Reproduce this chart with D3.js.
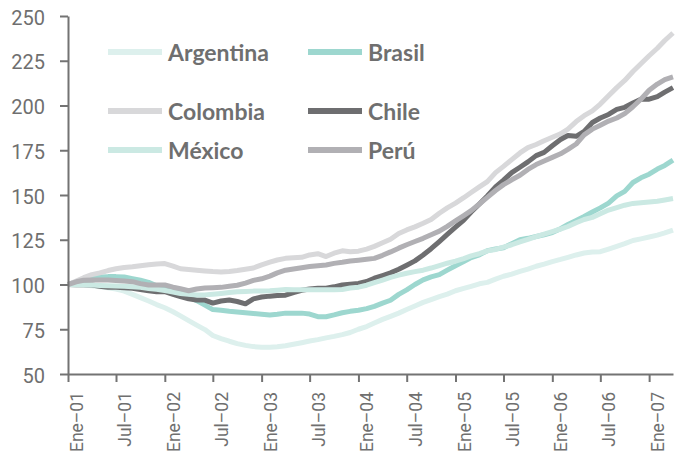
<!DOCTYPE html>
<html>
<head>
<meta charset="utf-8">
<script src="https://cdn.jsdelivr.net/npm/d3@7"></script>
<style>
  html, body { margin: 0; padding: 0; background: #ffffff; }
  svg { display: block; }
</style>
</head>
<body>
<svg id="chart" width="683" height="456"></svg>
<script>
// ---------- DATA (monthly index, Ene-2001 = 100) ----------
const seriesNames = ["Argentina", "Brasil", "Colombia", "Chile", "México", "Perú"];

const argentina = [100,99.8,99.7,99.3,98.8,98.2,97.5,96.3,94.5,92.7,90.8,88.8,
  87.0,84.8,82.5,79.8,77.3,74.8,71.5,69.8,68.3,67.0,66.0,65.3,
  65.0,65.0,65.2,65.8,66.6,67.5,68.4,69.2,70.2,71.0,72.0,73.2,
  75.0,76.5,78.5,80.5,82.2,84.0,86.0,88.0,90.0,91.6,93.2,94.6,
  96.5,97.8,99.0,100.4,101.2,103.0,104.6,105.8,107.3,108.6,110.2,111.4,
  112.8,114.0,115.2,116.5,117.6,118.2,118.3,119.8,121.3,122.8,124.6,125.5,
  126.5,127.6,128.8,130.4];

const brasil = [100,101.3,102.3,103.2,104.2,104.4,104.4,104.2,103.3,102.4,101.2,99.3,
  97.3,96.3,95.2,93.0,91.0,88.5,86.0,85.6,85.0,84.6,84.2,83.8,
  83.4,83.0,83.4,84.0,84.0,84.0,83.5,82.0,82.0,83.0,84.2,85.0,
  85.6,86.5,87.8,89.6,91.2,94.5,97.0,100.0,102.6,104.3,105.5,108.0,
  110.5,112.8,115.0,116.6,118.9,119.8,120.5,122.8,125.0,125.8,126.8,127.8,
  129.0,131.2,133.5,135.8,138.0,140.5,142.8,145.5,149.5,152.0,157.0,159.6,
  161.6,164.5,166.5,169.5];

const colombia = [100,102,103.8,105.5,106.5,107.8,108.8,109.5,109.9,110.5,111.0,111.5,
  111.7,110.3,108.8,108.4,108.0,107.6,107.2,107.0,107.3,107.8,108.5,109.2,
  111.0,112.5,113.7,114.6,114.9,115.2,116.5,117.2,115.6,117.5,118.8,118.3,
  118.6,119.8,121.3,123.3,125.3,128.5,130.5,132.2,134.2,136.3,139.8,142.8,
  145.5,148.5,151.4,154.5,157.5,162.5,166,169.8,173.5,176.5,178.2,180.3,
  182.3,184.2,186.8,191,194.3,197,200.8,205.5,210,214,219,223.3,
  227.8,232,236.3,240.5];

const chile = [100,99.9,99.8,99.7,99.0,98.4,98.4,98.2,97.9,97.2,96.5,96.0,
  96.0,94.5,93.3,92.0,91.3,91.3,89.6,90.8,91.3,90.5,89.2,92.0,
  93.0,93.5,93.8,94.0,95.5,96.8,97.5,97.9,97.9,98.7,99.7,100.2,
  100.6,101.7,103.5,105.0,106.5,108.5,110.8,113.2,116.5,120,124,128,
  132,136,140.5,145,149.5,154.5,158.3,162.5,165.5,168.5,172,173.8,
  177.5,181,183.2,182.8,185.5,190.5,193,195,197.8,199,201.4,203.5,
  203.5,205,207.5,210];

const mexico = [100,99.9,99.8,99.7,99.5,99.3,99.2,99.0,98.7,98.4,97.8,97.3,
  96.6,95.8,95.0,94.5,94.1,94.2,94.6,95.0,95.5,95.9,96.1,96.3,
  96.4,96.5,96.8,97.2,97.1,97.0,97.0,97.0,97.0,97.0,97.2,98.0,
  98.5,99.6,101.0,102.5,104.0,105.2,106.3,107.2,108.0,109.2,110.6,111.9,
  113.0,114.5,116.0,117.2,118.8,119.6,120.9,122.2,123.8,125.2,126.7,128.1,
  129.6,131.0,132.4,134.5,136.3,137.5,139.5,141.6,143.0,144.3,145.3,145.7,
  146.1,146.5,147.2,148];

const peru = [100,101.5,102.4,102.5,102.5,102.5,102.2,101.9,101.6,100.5,99.7,99.7,
  99.7,98.5,97.6,96.5,97.5,98,98.2,98.4,99,99.6,100.8,102.3,
  103.2,104.7,106.5,108,108.7,109.4,110,110.5,110.9,111.8,112.4,113.1,
  113.6,114.1,114.6,116.3,118.2,120.3,122.2,124,125.8,127.8,129.8,132.5,
  135.5,138.5,141.3,145,148.7,152.5,155.8,158.5,161,164.3,167,169,
  171,173,175.5,178.5,183.6,186.8,189,191.3,193,195.5,199.3,203.5,
  208.5,212,214.5,216];

const yTickValues = [50, 75, 100, 125, 150, 175, 200, 225, 250];
const xTickLabels = ["Ene–01","Jul–01","Ene–02","Jul–02","Ene–03","Jul–03","Ene–04",
  "Jul–04","Ene–05","Jul–05","Ene–06","Jul–06","Ene–07"];
const xTickDates = ["2001-01","2001-07","2002-01","2002-07","2003-01","2003-07","2004-01",
  "2004-07","2005-01","2005-07","2006-01","2006-07","2007-01"];

// ---------- STYLE ----------
const colors = {
  "Argentina": "#ddf0ed",
  "Brasil": "#9dd7cf",
  "Colombia": "#d8d8da",
  "Chile": "#6e6e70",
  "México": "#cbe9e3",
  "Perú": "#b1b0b4"
};
const axisColor = "#737373";
const textColor = "#6f6f6f";

const valuesByName = {
  "Argentina": argentina, "Brasil": brasil, "Colombia": colombia,
  "Chile": chile, "México": mexico, "Perú": peru
};

const parseMonth = d3.timeParse("%Y-%m");
const startDate = parseMonth("2001-01");
const months = d3.timeMonth.range(startDate, d3.timeMonth.offset(startDate, argentina.length));

const svg = d3.select("#chart");

const x = d3.scaleTime()
  .domain([months[0], months[months.length - 1]])
  .range([68, 673]);
const y = d3.scaleLinear()
  .domain([50, 250])
  .range([374, 16]);

// ---------- LINES ----------
const line = d3.line()
  .x((d, i) => x(months[i]))
  .y(d => y(d));

svg.append("g").selectAll("path")
  .data(seriesNames)
  .join("path")
  .attr("d", n => line(valuesByName[n]))
  .attr("fill", "none")
  .attr("stroke", n => colors[n])
  .attr("stroke-width", 5)
  .attr("stroke-linejoin", "round");

// ---------- AXES ----------
const yAxis = d3.axisLeft(y)
  .tickValues(yTickValues)
  .tickSize(8)
  .tickSizeOuter(0)
  .tickPadding(15)
  .tickFormat(d3.format("d"));

const gy = svg.append("g")
  .attr("transform", "translate(68,0)")
  .call(yAxis);
gy.select(".domain").attr("stroke", axisColor).attr("stroke-width", 2);
gy.selectAll(".tick line").attr("stroke", axisColor).attr("stroke-width", 2);
gy.selectAll(".tick text")
  .attr("fill", textColor)
  .style("font-family", "Roboto, 'DejaVu Sans', sans-serif")
  .style("font-size", "20px")
  .attr("dy", "0.4em");

const tickDates = xTickDates.map(parseMonth);
const xAxis = d3.axisBottom(x)
  .tickValues(tickDates)
  .tickSize(8)
  .tickSizeOuter(0)
  .tickFormat((d, i) => xTickLabels[i]);

const gx = svg.append("g")
  .attr("transform", "translate(0,374)")
  .call(xAxis);
gx.select(".domain").attr("stroke", axisColor).attr("stroke-width", 2);
gx.selectAll(".tick line").attr("stroke", axisColor).attr("stroke-width", 2);
gx.selectAll(".tick text")
  .attr("fill", textColor)
  .style("font-family", "Roboto, 'DejaVu Sans', sans-serif")
  .style("font-size", "17.5px")
  .attr("transform", "rotate(-90)")
  .attr("text-anchor", "end")
  .attr("x", -18)
  .attr("y", 14.5)
  .attr("dy", 0);

svg.selectAll(".domain").attr("fill", "none");
svg.selectAll(".tick text").attr("font-family", null);

// ---------- LEGEND ----------
const legendPos = {
  "Argentina": [108, 52], "Brasil": [308, 52],
  "Colombia": [108, 111], "Chile": [308, 111],
  "México": [108, 150], "Perú": [308, 150]
};
const lg = svg.append("g").selectAll("g")
  .data(seriesNames)
  .join("g")
  .attr("transform", n => `translate(${legendPos[n][0]},${legendPos[n][1]})`);
lg.append("line")
  .attr("x1", 0).attr("x2", 54)
  .attr("y1", 0).attr("y2", 0)
  .attr("stroke", n => colors[n])
  .attr("stroke-width", 6);
lg.append("text")
  .attr("x", 60)
  .attr("y", 9)
  .text(n => n)
  .attr("fill", textColor)
  .style("font-family", "Lato, 'Open Sans', sans-serif")
  .style("font-weight", "bold")
  .style("font-size", "23px");
</script>
</body>
</html>
